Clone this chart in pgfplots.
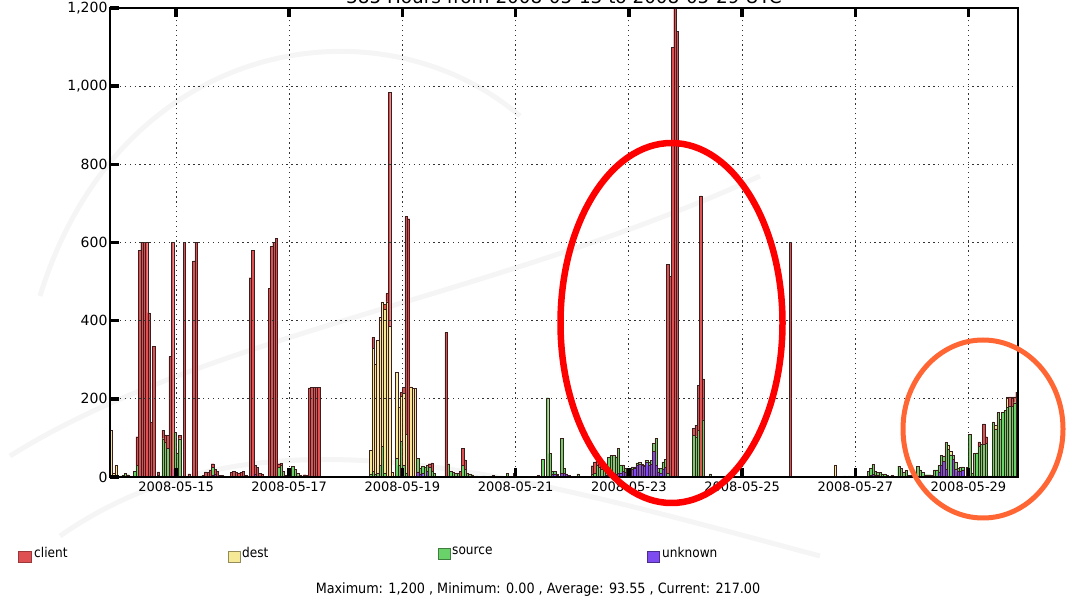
\documentclass[border=0pt]{standalone}
\usepackage{fontspec}
\setmainfont{DejaVu Sans}
\newfontfamily\condfont{DejaVu Sans}[FakeStretch=0.9]
\usepackage{pgfplots}
\pgfplotsset{compat=1.18}
\usepackage{pgfplotstable}
\definecolor{cclient}{RGB}{222,80,82}
\definecolor{cdest}{RGB}{245,232,150}
\definecolor{csource}{RGB}{105,210,105}
\definecolor{cunknown}{RGB}{125,75,240}
\definecolor{corange}{RGB}{255,102,51}
\definecolor{edge}{RGB}{60,30,30}

\pgfplotstableread{
h client dest source unknown
20 0 120 0 0
21 0 10 0 0
22 0 30 0 0
24 0 0 3 0
25 0 0 4 0
26 0 0 10 0
27 0 0 6 0
28 0 0 2 0
30 0 0 15 0
31 73 0 30 0
32 580 0 0 0
33 600 0 0 0
34 600 0 0 0
35 600 0 0 0
36 420 0 0 0
37 140 0 0 0
38 335 0 0 0
40 8 0 5 0
41 0 0 3 0
42 22 0 98 0
43 18 0 90 0
44 34 0 73 0
45 308 0 0 0
46 600 0 0 0
47 0 0 94 20
48 0 0 62 0
49 9 0 98 0
51 600 0 0 0
53 8 0 0 0
55 553 0 0 0
56 600 0 0 0
58 0 0 3 0
59 0 0 4 0
60 13 0 0 0
61 12 0 0 0
62 18 0 0 0
63 10 0 20 4
64 12 0 0 8
65 15 0 0 0
66 5 0 0 0
67 4 0 0 0
68 0 0 3 0
71 12 0 0 0
72 15 0 0 0
73 12 0 0 0
74 10 0 0 0
75 12 0 0 0
76 15 0 0 0
77 5 0 0 0
79 510 0 0 0
80 580 0 0 0
81 22 0 0 8
82 25 0 0 0
83 10 0 0 0
84 8 0 0 0
87 483 0 0 0
88 590 0 0 0
89 600 0 0 0
90 610 0 0 0
91 9 0 25 0
92 5 0 30 0
93 0 0 15 0
94 0 0 5 0
96 0 0 15 0
97 0 0 28 0
98 0 0 20 0
99 0 0 10 0
100 5 0 0 0
101 3 0 0 0
102 6 0 0 0
103 4 0 0 0
104 228 0 0 0
105 230 0 0 0
106 230 0 0 0
107 230 0 0 0
108 230 0 0 0
130 0 60 8 0
131 27 315 15 0
132 0 280 8 0
133 0 340 10 0
134 0 378 30 0
135 0 370 78 0
136 13 419 10 0
137 22 448 0 0
138 600 385 0 0
139 0 12 0 0
141 0 220 48 0
142 0 149 30 0
143 11 115 91 0
144 16 184 30 0
145 557 100 10 0
146 661 0 0 0
147 0 231 0 0
148 0 227 0 0
149 0 227 0 0
150 0 0 35 13
151 0 0 15 8
152 0 0 17 10
153 0 0 25 0
154 0 0 15 15
155 9 0 25 0
156 21 0 15 0
157 0 0 10 0
162 370 0 0 0
163 0 0 34 0
164 0 0 14 0
165 0 0 12 0
166 0 0 10 0
167 0 0 10 0
168 15 0 0 0
169 44 0 30 0
170 24 0 20 0
171 0 0 10 0
172 0 0 8 0
173 0 0 6 0
174 0 0 3 0
175 0 0 3 0
177 0 0 2 0
178 0 0 3 0
179 0 0 2 0
181 0 0 3 0
182 0 0 4 0
183 0 0 3 0
188 0 0 10 0
191 0 0 5 5
201 0 0 5 0
203 0 0 45 0
205 0 0 203 0
206 0 0 60 0
207 0 0 6 8
208 0 0 6 8
209 0 0 4 4
211 0 0 89 10
212 0 0 12 10
213 0 0 0 8
214 0 0 5 0
218 0 0 8 0
224 21 0 8 0
225 29 0 10 0
226 18 0 30 0
227 10 0 25 0
228 11 0 20 0
229 0 0 15 3
230 0 0 25 6
231 0 0 45 5
232 0 0 50 6
233 0 0 50 6
234 0 0 44 8
235 0 0 63 10
236 0 0 20 11
237 0 0 16 15
238 0 0 10 12
239 0 0 7 13
240 0 0 5 15
241 0 0 6 20
242 0 0 4 22
243 0 0 6 30
244 0 0 4 33
245 0 0 3 30
246 0 0 3 28
247 0 0 5 38
248 0 0 8 30
249 0 0 10 33
250 0 0 21 65
251 0 0 69 30
252 0 0 10 12
253 0 0 12 10
254 0 0 19 20
255 0 0 20 25
256 534 0 10 0
257 514 0 0 0
258 1100 0 0 0
259 1250 0 0 0
260 1140 0 0 0
267 17 0 107 0
268 30 0 103 0
269 114 0 120 0
270 719 0 0 0
271 105 0 146 0
274 0 0 8 0
308 600 0 0 0
327 0 31 0 0
331 0 0 3 0
333 0 0 3 0
334 0 0 2 0
341 0 0 14 0
342 0 0 17 5
343 0 0 25 7
344 0 0 10 5
345 0 0 8 4
346 0 0 12 0
347 0 0 8 0
348 0 0 8 0
349 0 0 5 0
351 0 0 4 0
354 0 0 28 0
355 0 0 22 0
356 0 0 12 0
357 0 0 17 0
358 0 0 5 0
359 0 0 4 0
362 0 0 28 0
363 0 0 18 0
364 0 0 12 0
365 0 0 6 0
366 0 0 6 0
367 0 0 6 0
368 0 0 4 0
369 0 0 18 0
370 0 0 18 0
371 0 0 18 12
372 0 0 25 30
373 0 0 14 40
374 0 0 68 20
375 0 10 72 0
376 0 10 57 0
377 0 0 10 45
378 0 0 19 20
379 0 0 8 14
380 0 0 9 15
381 0 0 8 18
383 0 0 24 0
384 0 0 109 0
385 0 0 9 0
386 0 0 60 0
387 0 0 62 0
388 11 0 79 0
389 0 0 85 0
390 52 0 84 0
391 17 0 86 0
392 0 0 3 0
393 0 0 3 0
394 0 0 141 0
395 0 10 123 0
396 0 0 165 0
397 0 0 147 0
398 0 0 166 0
399 0 0 170 0
400 0 27 178 0
401 23 0 182 0
402 25 0 180 0
403 15 0 190 0
404 17 0 200 0
}\datatab

\begin{document}
\begin{tikzpicture}[x=1pt,y=1pt]
\useasboundingbox (0,0) rectangle (1067,596);
% faint watermark arcs
\begin{scope}[black!4, line width=5pt]
\draw (40,300) .. controls (120,560) and (380,600) .. (520,480);
\draw (10,140) .. controls (200,260) and (500,300) .. (760,420);
\draw (60,60) .. controls (260,200) and (520,120) .. (820,40);
\end{scope}
\begin{axis}[
  at={(110pt,119pt)}, anchor=south west,
  scale only axis, width=908pt, height=469pt,
  xmin=20, xmax=405, ymin=0, ymax=1200,
  ybar stacked, bar width=1,
  xtick={48,96,144,192,240,288,336,384},
  xticklabels={2008-05-15,2008-05-17,2008-05-19,2008-05-21,2008-05-23,2008-05-25,2008-05-27,2008-05-29},
  ytick={0,200,400,600,800,1000,1200},
  /pgf/number format/.cd, 1000 sep={,}, assume math mode=true, /pgfplots/.cd,
  scaled y ticks=false,
  ytick pos=left,
  xtick pos=both,
  tick align=inside,
  major tick length=9pt,
  every tick/.style={black, line width=3.5pt},
  axis line style={black, line width=2.5pt},
  grid=major,
  major grid style={black!80, line width=1pt, dash pattern=on 1.3pt off 3.6pt},
  tick label style={font=\fontsize{13}{15}\selectfont},
  yticklabel style={font=\fontsize{14}{15}\selectfont, xshift=1pt},
  xticklabel style={yshift=-1pt},
  axis on top,
  clip=true,
]
\addplot[fill=cunknown, draw=edge, line width=0.3pt] table[x expr=\thisrow{h}+0.5, y=unknown]{\datatab};
\addplot[fill=csource, draw=edge, line width=0.3pt] table[x expr=\thisrow{h}+0.5, y=source]{\datatab};
\addplot[fill=cdest, draw=edge, line width=0.3pt] table[x expr=\thisrow{h}+0.5, y=dest]{\datatab};
\addplot[fill=cclient, draw=edge, line width=0.3pt] table[x expr=\thisrow{h}+0.5, y=client]{\datatab};
\end{axis}
% title (partly cut off at the top, as in the reference)
\node[font=\fontsize{18.4}{20}\selectfont, anchor=base] at (564,592) {385 Hours from 2008-05-13 to 2008-05-29 UTC};
% annotation ellipses
\draw[red, line width=6.5pt] (671.5,273) ellipse [x radius=111, y radius=180];
\draw[corange, line width=5pt] (983,167) ellipse [x radius=80, y radius=89];
% legend
\begin{scope}[every node/.style={font=\condfont\fontsize{13.5}{15}\selectfont, anchor=base west, inner sep=0pt}]
\filldraw[fill=cclient, draw=cclient!70!black, line width=0.6pt] (18.5,34) rectangle (31,45);
\node at (34,38) {client};
\filldraw[fill=cdest, draw=cdest!60!black, line width=0.6pt] (228.5,34) rectangle (240,45);
\node at (242,38) {dest};
\filldraw[fill=csource, draw=csource!60!black, line width=0.6pt] (438,37) rectangle (450,48);
\node at (452,41) {source};
\filldraw[fill=cunknown, draw=cunknown!60!black, line width=0.6pt] (647,34) rectangle (659,45);
\node at (662,38) {unknown};
\end{scope}
\node[font=\condfont\fontsize{14.2}{16}\selectfont, anchor=base] at (538,2) {Maximum: 1,200 , Minimum: 0.00 , Average: 93.55 , Current: 217.00};
\end{tikzpicture}
\end{document}
